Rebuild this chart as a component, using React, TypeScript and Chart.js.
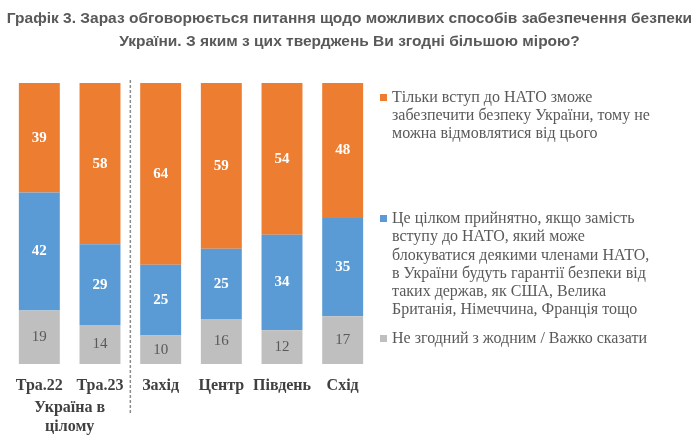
import React, { useEffect, useRef } from 'react';
import { Chart, registerables } from 'chart.js';

Chart.register(...registerables);

const categories = ['Тра.22', 'Тра.23', 'Захід', 'Центр', 'Південь', 'Схід'];
const natoOnly = [39, 58, 64, 59, 54, 48];
const guarantees = [42, 29, 25, 25, 34, 35];
const undecided = [19, 14, 10, 16, 12, 17];

const titleLines = [
  'Графік 3. Зараз обговорюється питання щодо можливих способів забезпечення безпеки',
  'України. З яким з цих тверджень Ви згодні більшою мірою?',
];
const groupLabel = ['Україна в', 'цілому'];

const legendNato = ['Тільки вступ до НАТО зможе', 'забезпечити безпеку України, тому не', 'можна відмовлятися від цього'];
const legendGuar = [
  'Це цілком прийнятно, якщо замість',
  'вступу до НАТО, який може',
  'блокуватися деякими членами НАТО,',
  'в України будуть гарантії безпеки від',
  'таких держав, як США, Велика',
  'Британія, Німеччина, Франція тощо',
];
const legendUnd = ['Не згодний з жодним / Важко сказати'];

const ORANGE = '#ED7D31';
const BLUE = '#5B9BD5';
const GRAY = '#BFBFBF';
const SERIF = '"Liberation Serif", "Times New Roman", serif';

const rawSeries = [undecided, guarantees, natoOnly];
const totals = categories.map((_, i) => rawSeries.reduce((s, arr) => s + arr[i], 0));
const pct = (arr: number[]) => arr.map((v, i) => (v / totals[i]) * 100);

export default function App() {
  const ref = useRef<HTMLCanvasElement>(null);
  useEffect(() => {
    if (!ref.current) return;
    const labelPlugin = {
      id: 'labels',
      afterDatasetsDraw(chart: any) {
        const ctx = chart.ctx;
        ctx.save();
        ctx.textAlign = 'center';
        ctx.textBaseline = 'middle';
        chart.data.datasets.forEach((ds: any, di: number) => {
          const meta = chart.getDatasetMeta(di);
          meta.data.forEach((el: any, i: number) => {
            const raw = rawSeries[di][i];
            if (di === 0) {
              ctx.fillStyle = '#595959';
              ctx.font = `15px ${SERIF}`;
            } else {
              ctx.fillStyle = '#FFFFFF';
              ctx.font = `bold 15px ${SERIF}`;
            }
            ctx.fillText(String(raw), el.x, (el.y + el.base) / 2);
          });
        });
        const xs = chart.scales.x;
        const sx = (xs.getPixelForValue(1) + xs.getPixelForValue(2)) / 2;
        ctx.strokeStyle = '#8C8C8C';
        ctx.lineWidth = 1.5;
        ctx.setLineDash([3, 2]);
        ctx.beginPath();
        ctx.moveTo(sx, 80);
        ctx.lineTo(sx, 413);
        ctx.stroke();
        ctx.setLineDash([]);
        const gx = (xs.getPixelForValue(0) + xs.getPixelForValue(1)) / 2;
        ctx.fillStyle = '#404040';
        ctx.font = `bold 16px ${SERIF}`;
        ctx.fillText(groupLabel[0], gx, 408);
        ctx.fillText(groupLabel[1], gx, 427);
        ctx.restore();
      },
    };
    const chart = new Chart(ref.current, {
      type: 'bar',
      data: {
        labels: categories,
        datasets: [
          { label: legendUnd.join(' '), data: pct(undecided), backgroundColor: GRAY },
          { label: legendGuar.join(' '), data: pct(guarantees), backgroundColor: BLUE },
          { label: legendNato.join(' '), data: pct(natoOnly), backgroundColor: ORANGE },
        ],
      },
      options: {
        animation: false,
        responsive: false,
        layout: { padding: { left: 9, right: 326, top: 83, bottom: 0 } },
        datasets: { bar: { categoryPercentage: 1, barPercentage: 0.675 } },
        plugins: { legend: { display: false }, tooltip: { enabled: false }, title: { display: false } },
        scales: {
          x: {
            stacked: true,
            grid: { display: false, drawTicks: false },
            border: { display: false },
            ticks: {
              color: '#404040',
              font: { family: SERIF, size: 16, weight: 'bold' },
              padding: 12,
              maxRotation: 0,
              minRotation: 0,
              autoSkip: false,
            },
            afterFit: (s: any) => {
              s.height = 78;
            },
          },
          y: { stacked: true, min: 0, max: 100, display: false },
        },
      },
      plugins: [labelPlugin],
    } as any);
    return () => chart.destroy();
  }, []);

  const legendBlock = (lines: string[], color: string, top: number) => (
    <div style={{ position: 'absolute', left: 380, top, fontFamily: SERIF, fontSize: 16, lineHeight: '18.3px', color: '#595959' }}>
      <div style={{ position: 'absolute', left: 0, top: 6, width: 7, height: 7, background: color }} />
      {lines.map((l, i) => (
        <div key={i} style={{ marginLeft: 12, whiteSpace: 'nowrap' }}>
          {l}
        </div>
      ))}
    </div>
  );

  return (
    <div style={{ position: 'fixed', left: 0, top: 0, width: 699, height: 442, background: '#fff' }}>
      <canvas ref={ref} width={699} height={442} style={{ position: 'absolute', left: 0, top: 0, width: 699, height: 442 }} />
      <div
        style={{
          position: 'absolute',
          left: 0,
          top: 5.5,
          width: 699,
          textAlign: 'center',
          fontFamily: '"Liberation Sans", Arial, sans-serif',
          fontWeight: 'bold',
          fontSize: 15.5,
          lineHeight: '23px',
          color: '#595959',
          whiteSpace: 'nowrap',
        }}
      >
        {titleLines.map((l, i) => (
          <div key={i}>{l}</div>
        ))}
      </div>
      {legendBlock(legendNato, ORANGE, 87.5)}
      {legendBlock(legendGuar, BLUE, 209)}
      {legendBlock(legendUnd, GRAY, 329)}
    </div>
  );
}
